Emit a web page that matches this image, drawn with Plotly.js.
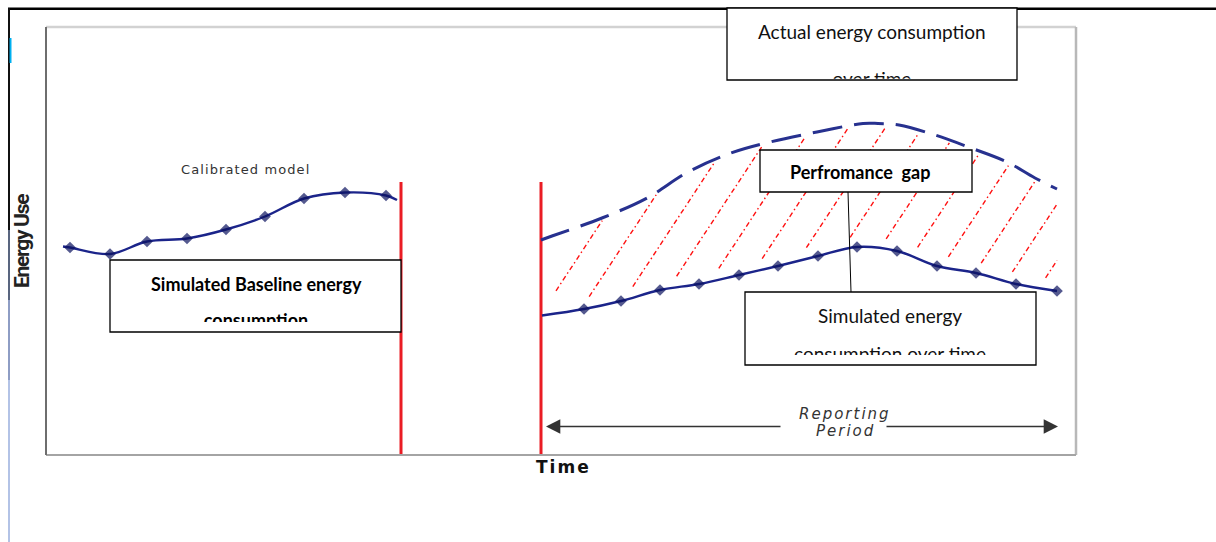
<!DOCTYPE html>
<html>
<head>
<meta charset="utf-8">
<script src="https://cdn.plot.ly/plotly-3.0.1.min.js"></script>
<style>html,body{margin:0;padding:0;background:#fff;}#chart{width:1216px;height:542px;}</style>
</head>
<body>
<div id="chart"></div>
<script>
// ---- data (time units / energy units) ----
const baselineTime   = [1.7, 2.4, 6.4, 10.1, 14.1, 18.0, 21.9, 25.8, 29.9, 34.0, 35.1];
const baselineEnergy = [41.7, 41.5, 40.2, 42.7, 43.3, 45.1, 47.7, 51.3, 52.5, 51.9, 51.0];
const baselineMarker = [0, 1, 1, 1, 1, 1, 1, 1, 1, 1, 0];

const simTime   = [49.6, 53.8, 57.5, 61.4, 65.3, 69.3, 73.2, 77.2, 81.1, 85.1, 89.1, 93.0, 97.0, 101.1];
const simEnergy = [27.9, 29.2, 30.8, 33.0, 34.2, 36.0, 37.8, 39.8, 41.6, 40.8, 37.8, 36.4, 34.2, 32.8];
const simMarker = [0, 1, 1, 1, 1, 1, 1, 1, 1, 1, 1, 1, 1, 1];

const actTime   = [49.5, 50.6, 55.6, 60.1, 64.2, 68.5, 72.4, 77.1, 81.7, 83.2, 85.3, 88.9, 92.5, 96.1, 98.9, 101.1];
const actEnergy = [43.0, 43.8, 47.4, 51.4, 56.6, 60.4, 62.6, 64.6, 66.3, 66.3, 66.0, 64.0, 61.4, 58.6, 55.4, 53.2];

const boundaryTime = [35.5, 49.5];
const boundaryTop  = 54.6;

const labels = {
  yTitle: 'Energy Use',
  xTitle: 'Time',
  calibrated: 'Calibrated model',
  actual1: 'Actual energy consumption',
  actual2: 'over time',
  gap: 'Perfromance\u00a0 gap',
  sim1: 'Simulated energy',
  sim2: 'consumption over time',
  base1: 'Simulated Baseline energy',
  base2: 'consumption',
  rep1: 'Reporting',
  rep2: 'Period'
};

// ---- layout helpers (pixel -> paper) ----
const L = 46, R = 1076, T = 27, B = 455;
const px = p => (p - L) / (R - L);
const py = p => (B - p) / (B - T);

// ---- hatching between simulated and actual curves ----
function interp(xs, ys, x) {
  for (let i = 0; i < xs.length - 1; i++) {
    if (x >= xs[i] && x <= xs[i + 1]) {
      const t = (x - xs[i]) / (xs[i + 1] - xs[i]);
      return ys[i] + t * (ys[i + 1] - ys[i]);
    }
  }
  return null;
}
const hx = [], hy = [];
const slope = 3.04, spacing = 3.7, gapB = 2.2, gapT = 0.5, hMin = 51, hMax = simTime[simTime.length - 1];
for (let c = 40.2 - 12 * spacing; c < hMax; c += spacing) {
  let seg = null;
  for (let x = hMin; x <= hMax + 1e-9; x += 0.02) {
    const y = slope * (x - c);
    const lo = interp(simTime, simEnergy, x), hi = interp(actTime, actEnergy, x);
    if (lo === null || hi === null) continue;
    const ok = y >= lo + gapB && y <= hi - gapT;
    if (ok) { if (!seg) seg = [x, y, x, y]; else { seg[2] = x; seg[3] = y; } }
    else if (seg) break;
  }
  if (seg && seg[2] - seg[0] > 0.3) { hx.push(seg[0], seg[2], null); hy.push(seg[1], seg[3], null); }
}

const navy = '#1b248a';
const traces = [
  { x: hx, y: hy, mode: 'lines', line: { color: '#ff1010', width: 1.4, dash: '5px,3px,1.5px,3px' }, hoverinfo: 'skip' },
  { x: [boundaryTime[0], boundaryTime[0]], y: [0, boundaryTop], mode: 'lines', line: { color: '#ea1c24', width: 3 } },
  { x: [boundaryTime[1], boundaryTime[1]], y: [0, boundaryTop], mode: 'lines', line: { color: '#ea1c24', width: 3 } },
  { x: actTime, y: actEnergy, mode: 'lines', line: { color: '#27318f', width: 3, shape: 'spline', dash: '30px,12px' } },
  { x: baselineTime, y: baselineEnergy, mode: 'lines+markers', line: { color: navy, width: 2.4, shape: 'spline' },
    marker: { symbol: 'diamond', size: baselineMarker.map(v => v * 9), color: '#0b1260', line: { width: 0 } } },
  { x: simTime, y: simEnergy, mode: 'lines+markers', line: { color: navy, width: 2.4, shape: 'spline' },
    marker: { symbol: 'diamond', size: simMarker.map(v => v * 9), color: '#0b1260', line: { width: 0 } } }
];

const boxLine = { color: '#000', width: 1.3 };
const shapes = [
  // outer page lines
  { type: 'line', xref: 'paper', yref: 'paper', x0: px(8), x1: px(1216), y0: py(8.7), y1: py(8.7), line: { color: '#000', width: 2.5 } },
  { type: 'line', xref: 'paper', yref: 'paper', x0: px(9), x1: px(9), y0: py(8), y1: py(230), line: { color: '#111', width: 2 } },
  { type: 'line', xref: 'paper', yref: 'paper', x0: px(9), x1: px(9), y0: py(230), y1: py(300), line: { color: '#59657f', width: 2 } },
  { type: 'line', xref: 'paper', yref: 'paper', x0: px(9), x1: px(9), y0: py(300), y1: py(380), line: { color: '#8e9dc4', width: 2 } },
  { type: 'line', xref: 'paper', yref: 'paper', x0: px(9), x1: px(9), y0: py(380), y1: py(542), line: { color: '#b3c3e6', width: 2 } },
  { type: 'line', xref: 'paper', yref: 'paper', x0: px(10.5), x1: px(10.5), y0: py(38), y1: py(63), line: { color: '#00b0f0', width: 2 } },
  // chart frame
  { type: 'line', xref: 'paper', yref: 'paper', x0: 0, x1: 1, y0: 1, y1: 1, line: { color: '#d2d2d2', width: 2.5 } },
  { type: 'line', xref: 'paper', yref: 'paper', x0: 1, x1: 1, y0: 0, y1: 1, line: { color: '#b8b8b8', width: 2.5 } },
  { type: 'line', xref: 'paper', yref: 'paper', x0: 0, x1: 1, y0: 0, y1: 0, line: { color: '#a4a4a4', width: 2 } },
  { type: 'line', xref: 'paper', yref: 'paper', x0: 0, x1: 0, y0: 0, y1: 1, line: { color: '#6e6e6e', width: 2 } },
  // connector
  { type: 'line', xref: 'paper', yref: 'paper', layer: 'above', x0: px(848), x1: px(851), y0: py(192), y1: py(292), line: { color: '#000', width: 1 } },
  // text boxes
  { type: 'rect', xref: 'paper', yref: 'paper', layer: 'above', x0: px(727), x1: px(1017), y0: py(80), y1: py(8), fillcolor: '#fff', line: boxLine },
  { type: 'rect', xref: 'paper', yref: 'paper', layer: 'above', x0: px(760), x1: px(972), y0: py(192), y1: py(150), fillcolor: '#fff', line: boxLine },
  { type: 'rect', xref: 'paper', yref: 'paper', layer: 'above', x0: px(745), x1: px(1036), y0: py(365), y1: py(292), fillcolor: '#fff', line: boxLine },
  { type: 'rect', xref: 'paper', yref: 'paper', layer: 'above', x0: px(110), x1: px(401), y0: py(332), y1: py(260), fillcolor: '#fff', line: boxLine }
];

const boxFont = { family: 'Lato, Open Sans, sans-serif', size: 19, color: '#111' };
const boxFontB = { family: 'Lato, Open Sans, sans-serif', size: 18, color: '#000' };
const condensed = 'Roboto, Liberation Sans Narrow, sans-serif';
const wide = 'DejaVu Sans, Verdana, sans-serif';

function txt(text, x, y, font, extra) {
  return Object.assign({ xref: 'paper', yref: 'paper', x: px(x), y: py(y), xanchor: 'center', yanchor: 'middle',
    text: text, showarrow: false, font: font, borderpad: 0, borderwidth: 0 }, extra || {});
}
function clipped(text, x, top, h, w, font) {
  return { xref: 'paper', yref: 'paper', x: px(x), y: py(top), xanchor: 'center', yanchor: 'top',
    text: text, showarrow: false, font: font, width: w, height: h, valign: 'top', align: 'center', borderpad: 0, borderwidth: 0 };
}

const annotations = [
  txt('<b><span style="letter-spacing:-1.3px">' + labels.yTitle + '</span></b>', 22, 241, { family: condensed, size: 21, color: '#222' }, { textangle: -90 }),
  txt('<b><span style="letter-spacing:2px">' + labels.xTitle + '</span></b>', 563, 467, { family: wide, size: 17, color: '#111' }),
  txt('<span style="letter-spacing:1.1px">' + labels.calibrated + '</span>', 245, 169, { family: wide, size: 13, color: '#333' }),
  txt('<i><span style="letter-spacing:2px">' + labels.rep1 + '</span></i>', 845, 414, { family: wide, size: 15, color: '#333' }),
  txt('<i><span style="letter-spacing:2px">' + labels.rep2 + '</span></i>', 845, 431, { family: wide, size: 15, color: '#333' }),
  // reporting period arrows
  { xref: 'paper', yref: 'paper', x: px(546), y: py(426.5), ax: 782 - 546, ay: 0, text: '', showarrow: true,
    arrowhead: 2, arrowsize: 2.2, arrowwidth: 1.3, arrowcolor: '#333', standoff: 0 },
  { xref: 'paper', yref: 'paper', x: px(1058), y: py(426.5), ax: 885 - 1058, ay: 0, text: '', showarrow: true,
    arrowhead: 2, arrowsize: 2.2, arrowwidth: 1.3, arrowcolor: '#333', standoff: 0 },
  // box texts
  txt(labels.actual1, 872, 31.7, boxFont),
  clipped(labels.actual2, 872, 66.9, 11.8, 280, boxFont),
  txt('<b>' + labels.gap + '</b>', 859.5, 172, boxFontB),
  txt(labels.sim1, 890, 315, boxFont),
  clipped(labels.sim2, 890, 341.9, 13, 280, boxFont),
  txt('<b>' + labels.base1 + '</b>', 256, 284, boxFontB),
  clipped('<b>' + labels.base2 + '</b>', 256, 309.4, 13, 280, boxFontB)
];

const layout = {
  width: 1216, height: 542,
  margin: { l: L, r: 1216 - R, t: T, b: 542 - B, pad: 0 },
  paper_bgcolor: '#fff', plot_bgcolor: '#fff',
  showlegend: false,
  xaxis: { range: [0, 103], visible: false, fixedrange: true },
  yaxis: { range: [0, 85.6], visible: false, fixedrange: true },
  shapes: shapes,
  annotations: annotations
};

Plotly.newPlot('chart', traces, layout, { staticPlot: true, displayModeBar: false });
</script>
</body>
</html>
